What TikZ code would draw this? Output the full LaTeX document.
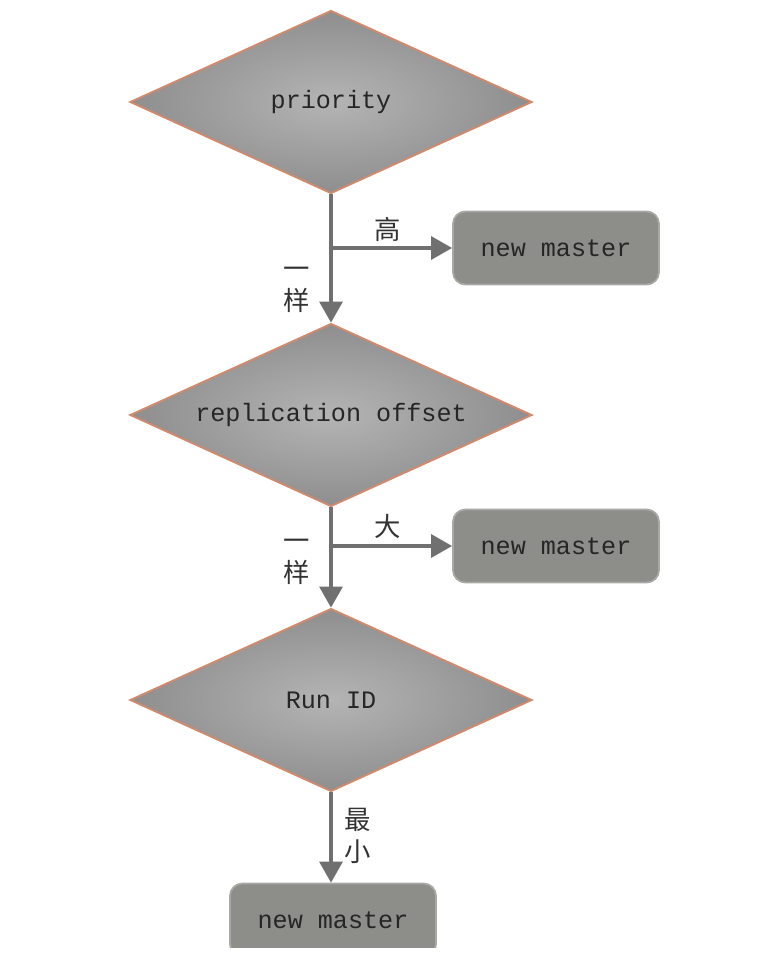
\documentclass[tikz,border=0pt]{standalone}
\usepackage{fontspec}
\setmonofont{Liberation Mono}
\newfontfamily\cjk{Noto Sans CJK SC}
\usetikzlibrary{shapes.geometric,arrows.meta}
\definecolor{flowedge}{HTML}{D08A6E}
\definecolor{flowgray}{HTML}{8E8E8E}
\definecolor{flowlight}{HTML}{B4B4B4}
\definecolor{boxgray}{HTML}{8D8D89}
\definecolor{boxedge}{HTML}{A8A8A4}
\definecolor{linegray}{HTML}{707070}

\begin{document}
\begin{tikzpicture}[x=0.02cm,y=-0.02cm,
  decision/.style={diamond, draw=flowedge, line width=1.1pt, inner sep=0pt,
    minimum width=8.04cm, minimum height=3.66cm, shading=radial,
    inner color=flowlight, outer color=flowgray,
    font=\ttfamily\fontsize{14.3}{15}\selectfont, text=black!85},
  result/.style={rectangle, rounded corners=7pt, draw=boxedge, line width=1pt,
    fill=boxgray, minimum width=4.12cm, minimum height=1.46cm,
    font=\ttfamily\fontsize{14.3}{15}\selectfont, text=black!85},
  flow/.style={draw=linegray, line width=1.8pt,
    -{Triangle[length=0.42cm,width=0.46cm]}},
  tag/.style={font=\cjk\fontsize{15}{18}\selectfont, text=black!80,
    align=center, inner sep=0pt}]
  \useasboundingbox (0,0) rectangle (765,957);

  % decisions
  \node[decision] (prio) at (331,102) {\makebox[0pt]{priority}};
  \node[decision] (offset) at (331,415) {\makebox[0pt]{replication offset}};
  \node[decision] (runid) at (331,700) {\makebox[0pt]{Run ID}};

  % results
  \node[result] (master1) at (556,248) {new master};
  \node[result] (master2) at (556,546) {new master};
  \begin{scope}
    \clip (0,0) rectangle (765,947);
    \node[result] (master3) at (333,920) {new master};
  \end{scope}

  % connectors
  \draw[flow] (prio.south) -- (offset.north);
  \draw[flow] (prio.south |- master1.west) -- (master1.west);
  \draw[flow] (offset.south) -- (runid.north);
  \draw[flow] (offset.south |- master2.west) -- (master2.west);
  \draw[flow] (runid.south) -- (runid.south |- master3.north);

  % labels
  \node[tag] (high) at (388,229) {高};
  \node[tag] (same1) at (297,290) {一\\样};
  \node[tag] (large) at (388,526) {大};
  \node[tag] (same2) at (297,562) {一\\样};
  \node[tag] (least) at (358,836) {最\\小};
\end{tikzpicture}
\end{document}
